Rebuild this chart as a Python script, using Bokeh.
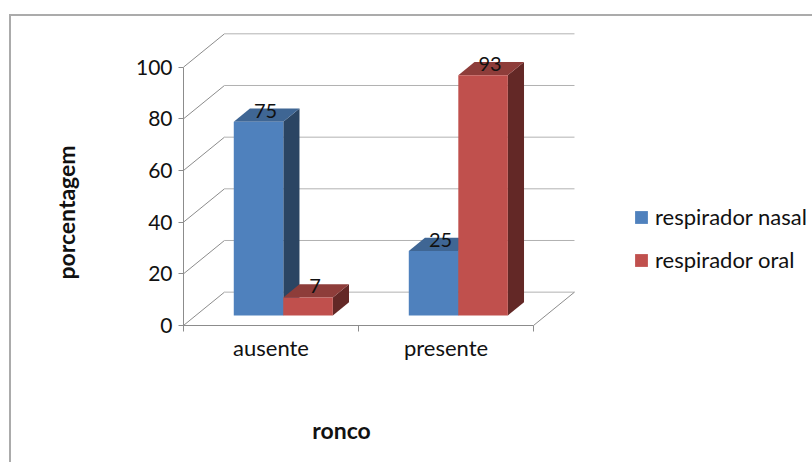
from bokeh.embed import file_html
from bokeh.resources import INLINE
from bokeh.plotting import figure
from bokeh.models import (ColumnDataSource, FixedTicker, InlineStyleSheet, Label,
                          Legend, LegendItem, Range1d)

# Chart data
categories = ["ausente", "presente"]
series_names = ["respirador nasal", "respirador oral"]
nasal_values = [75, 25]
oral_values = [7, 93]
value_ticks = [0, 20, 40, 60, 80, 100]

# Colours per series: front face, top face, side face
front_colors = ["#4F81BD", "#C0504D"]
top_colors = ["#3F6694", "#8E3D3A"]
side_colors = ["#2B4563", "#632826"]
GRID = "#B2B2B2"
AXIS = "#8C8C8C"
FONT = "Lato"

# Oblique projection: depth 0 is the front plane, depth 1 the back wall
DEPTH_X = 0.234       # category units
DEPTH_Y = 12.9        # value units
BAR_WIDTH = 0.283
BAR_FRONT = 0.30
BAR_BACK = 0.695


def project(x, v, d):
    return x + d * DEPTH_X, v + d * DEPTH_Y


# The frame fills the page; both axes are pinned to the data origin inside it
p = figure(width=812, height=462, output_backend="svg", toolbar_location=None,
           x_range=Range1d(-1.0457, 3.594), y_range=Range1d(-53.04, 125.8),
           min_border_left=0, min_border_right=0, min_border_top=0,
           min_border_bottom=0, outline_line_color=None,
           background_fill_color=None, border_fill_color=None,
           x_axis_location="below", y_axis_location="left")
p.grid.visible = False

# Chart area border, open towards the right and bottom edges of the page
p.stylesheets = [InlineStyleSheet(css="""
:host::before {
  content: "";
  position: absolute;
  left: 9px;
  top: 14px;
  width: 803px;
  height: 448px;
  box-sizing: border-box;
  border-left: 2px solid #ABABAB;
  border-top: 2px solid #ABABAB;
}
""")]

# Wall and floor lines
wall_xs, wall_ys, wall_colors = [], [], []
for t in value_ticks:
    x0, y0 = project(0, t, 0)
    x1, y1 = project(0, t, 1)
    x2, y2 = project(2, t, 1)
    wall_xs += [[x0, x1], [x1, x2]]
    wall_ys += [[y0, y1], [y1, y2]]
    wall_colors += [AXIS, GRID]
fx0, fy0 = project(2, 0, 0)
fx1, fy1 = project(2, 0, 1)
wall_xs.append([fx0, fx1])
wall_ys.append([fy0, fy1])
wall_colors.append(AXIS)
p.multi_line(wall_xs, wall_ys, line_color=wall_colors, line_width=1)

# Three faces of each bar, drawn category by category so red overlaps blue
legend_bars = {}
label_x, label_y, label_text = [], [], []
for c in range(len(categories)):
    for s, values in enumerate([nasal_values, oral_values]):
        v = values[c]
        base = (c + 0.5) + (s - 1) * BAR_WIDTH
        x_l, x_r = base, base + BAR_WIDTH

        fl = project(x_l, 0, BAR_FRONT)
        fr = project(x_r, 0, BAR_FRONT)
        top_fl = project(x_l, v, BAR_FRONT)
        top_fr = project(x_r, v, BAR_FRONT)
        top_bl = project(x_l, v, BAR_BACK)
        top_br = project(x_r, v, BAR_BACK)
        br = project(x_r, 0, BAR_BACK)

        p.patch([fr[0], br[0], top_br[0], top_fr[0]],
                [fr[1], br[1], top_br[1], top_fr[1]],
                fill_color=side_colors[s], line_color=None)
        p.patch([top_fl[0], top_fr[0], top_br[0], top_bl[0]],
                [top_fl[1], top_fr[1], top_br[1], top_bl[1]],
                fill_color=top_colors[s], line_color=None)
        bar = p.quad(left=[fl[0]], right=[fr[0]], bottom=[fl[1]], top=[top_fl[1]],
                     fill_color=front_colors[s], line_color=None)
        legend_bars.setdefault(s, bar)

        label_x.append((fl[0] + fr[0]) / 2)
        label_y.append(top_fl[1])
        label_text.append(str(v))

# Value labels sit over the top face of each bar
p.text(x="x", y="y", text="t",
       source=ColumnDataSource(dict(x=label_x, y=label_y, t=label_text)),
       text_font={"value": FONT}, text_font_size="20px", text_color="#111111",
       text_align="center", text_baseline="middle", x_offset=7, y_offset=-11)

# Value axis
yaxis = p.yaxis[0]
yaxis.fixed_location = 0
yaxis.ticker = FixedTicker(ticks=value_ticks, minor_ticks=[])
yaxis.bounds = (0, 100)
yaxis.axis_line_color = AXIS
yaxis.major_tick_line_color = AXIS
yaxis.major_tick_in = 0
yaxis.major_tick_out = 5
yaxis.major_label_text_font = FONT
yaxis.major_label_text_font_size = "21px"
yaxis.major_label_text_color = "#111111"
yaxis.major_label_standoff = 6

# Category axis: ticks between groups, labels at group centres
xaxis = p.xaxis[0]
xaxis.fixed_location = 0
xaxis.ticker = FixedTicker(ticks=[0.5, 1.5], minor_ticks=[0, 1, 2])
xaxis.major_label_overrides = {0.5: categories[0], 1.5: categories[1]}
xaxis.bounds = (0, 2)
xaxis.axis_line_color = AXIS
xaxis.major_tick_line_color = None
xaxis.major_tick_in = 0
xaxis.major_tick_out = 0
xaxis.minor_tick_line_color = AXIS
xaxis.minor_tick_in = 0
xaxis.minor_tick_out = 6
xaxis.major_label_text_font = FONT
xaxis.major_label_text_font_size = "22px"
xaxis.major_label_text_color = "#111111"
xaxis.major_label_standoff = 3

# Axis titles
p.add_layout(Label(x=341, y=33, x_units="screen", y_units="screen", text="ronco",
                   text_font=FONT, text_font_size="23px", text_font_style="bold",
                   text_color="#111111", text_align="center", text_baseline="middle"))
p.add_layout(Label(x=65, y=250, x_units="screen", y_units="screen", text="porcentagem",
                   angle=90, angle_units="deg",
                   text_font=FONT, text_font_size="23px", text_font_style="bold",
                   text_color="#111111", text_align="center", text_baseline="middle"))

# Legend inside the plotting frame
legend = Legend(items=[LegendItem(label=series_names[i], renderers=[legend_bars[i]])
                       for i in range(2)],
                location=(633, 189), orientation="vertical", spacing=16,
                padding=0, margin=0, glyph_width=16, glyph_height=16,
                label_standoff=6, label_height=22,
                label_text_font=FONT, label_text_font_size="22px",
                label_text_color="#111111", border_line_color=None,
                background_fill_alpha=0)
p.add_layout(legend)

open("out.html", "w").write(file_html(p, INLINE))
